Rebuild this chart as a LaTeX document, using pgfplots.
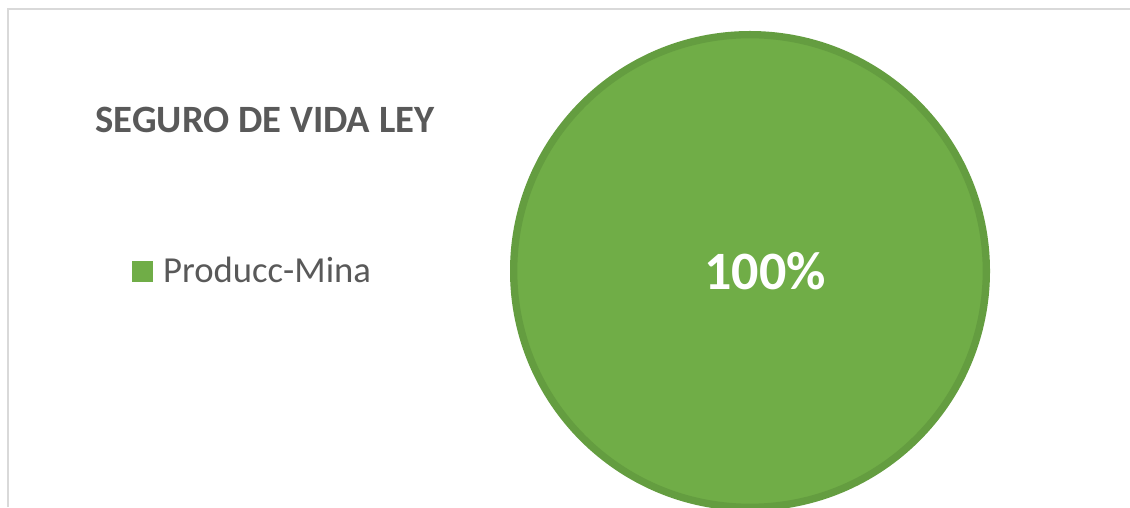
\documentclass[border=0pt]{standalone}
\usepackage{pgfplots}
\pgfplotsset{compat=1.18}
\usepackage{fontspec}
\setmainfont{Carlito}
\definecolor{piegreen}{HTML}{70AD47}
\definecolor{pieedge}{HTML}{649D40}
\definecolor{txtgray}{HTML}{595959}
\definecolor{framegray}{HTML}{D9D9D9}
\begin{document}
\begin{tikzpicture}
\begin{axis}[
  width=847.5pt, height=380.25pt, scale only axis,
  xmin=0, xmax=1130, ymin=0, ymax=507,
  hide axis,
  clip=false,
  point meta=explicit symbolic,
  legend style={at={(axis cs:132,236)}, anchor=west, draw=none, fill=none,
    font=\fontsize{27.5}{31}\selectfont\color{txtgray}, inner sep=0pt,
    legend cell align=left},
  legend image code/.code={\fill[piegreen] (0pt,-7.5pt) rectangle (15pt,7.5pt);
    \path[draw=none, fill=none] (0pt,-1pt) rectangle (21pt,1pt);},
]
\addplot[only marks, mark=*, mark size=177.25pt,
  mark options={fill=piegreen, draw=pieedge, line width=5.5pt},
  nodes near coords,
  every node near coord/.append style={anchor=center, xshift=11.25pt, yshift=0pt,
    text=white, font=\fontsize{40.5}{44}\selectfont\bfseries}]
  coordinates {(750,236) [100\%]};
\addlegendentry{Producc-Mina}
\draw[framegray, line width=1.5pt] (axis cs:8,0) -- (axis cs:8,498) -- (axis cs:1130,498);
\node[text=txtgray, font=\fontsize{29}{32}\selectfont\bfseries] at (axis cs:265,387) {SEGURO DE VIDA LEY};
\end{axis}
\pgfresetboundingbox
\path (0,0) rectangle (847.5pt,380.25pt);
\end{tikzpicture}
\end{document}
